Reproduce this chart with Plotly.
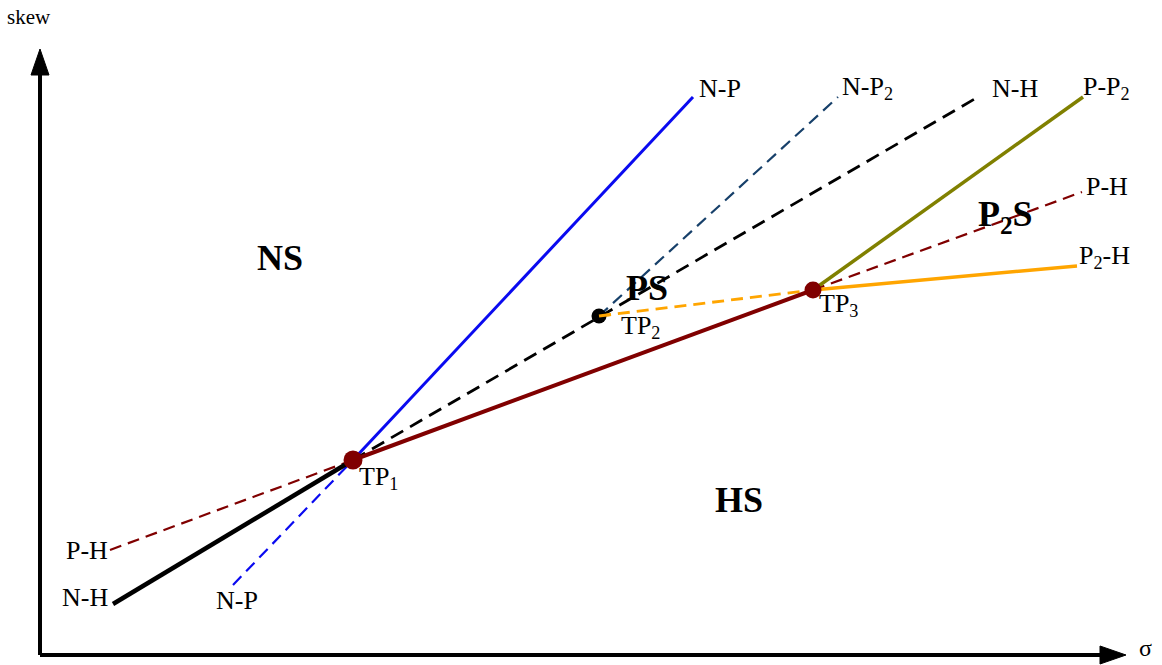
import plotly.graph_objects as go

# ---- key points (chart units; origin bottom-left) ----
origin = (40, 10)
y_axis_tip = (40, 616)
x_axis_tip = (1126, 10)

TP1 = (353, 205)
TP2 = (599, 349)
TP3 = (813, 375)

NP_start = (233, 80)
NP_end = (693, 568)
NP2_end = (838, 568)
NH_start = (113, 61)
NH_end = (978, 568)
PH_start = (110, 115)
PH_end = (1082, 473)
PP2_end = (1083, 568)
P2H_end = (1077, 399)

# line labels: (text, x, y, anchor)
line_labels = [
    ("N-P", 697, 577, "left"),
    ("N-P<sub>2</sub>", 840, 577, "left"),
    ("N-H", 990, 577, "left"),
    ("P-P<sub>2</sub>", 1081, 577, "left"),
    ("P-H", 1084, 479, "left"),
    ("P<sub>2</sub>-H", 1077, 408, "left"),
    ("P-H", 110, 115, "right"),
    ("N-H", 110, 68, "right"),
    ("N-P", 237, 65, "center"),
    ("TP<sub>1</sub>", 357, 187, "left"),
    ("TP<sub>2</sub>", 619, 338, "left"),
    ("TP<sub>3</sub>", 817, 360, "left"),
]
region_labels = [
    ("NS", 280, 407),
    ("PS", 647, 377),
    ("P<sub>2</sub>S", 1005, 449),
    ("HS", 739, 165),
]

BLUE = "#0A0AF0"
NAVY = "#17406A"
DRED = "#800000"
OLIVE = "#808000"
ORANGE = "#FFA500"
DASH = "12px,7px"
LDASH = "14px,8px"

fig = go.Figure()

def seg(p, q, color, width, dash="solid"):
    fig.add_trace(go.Scatter(x=[p[0], q[0]], y=[p[1], q[1]], mode="lines",
                             line=dict(color=color, width=width, dash=dash),
                             hoverinfo="skip", showlegend=False))

# axes
seg(origin, (y_axis_tip[0], y_axis_tip[1] - 20), "black", 4)
seg(origin, (x_axis_tip[0] - 20, x_axis_tip[1]), "black", 4)
fig.add_trace(go.Scatter(x=[y_axis_tip[0] - 9, y_axis_tip[0], y_axis_tip[0] + 9, y_axis_tip[0] - 9],
                         y=[y_axis_tip[1] - 26, y_axis_tip[1], y_axis_tip[1] - 26, y_axis_tip[1] - 26],
                         fill="toself", fillcolor="black", mode="lines", line=dict(color="black", width=1),
                         hoverinfo="skip", showlegend=False))
fig.add_trace(go.Scatter(x=[x_axis_tip[0] - 26, x_axis_tip[0], x_axis_tip[0] - 26, x_axis_tip[0] - 26],
                         y=[x_axis_tip[1] - 9, x_axis_tip[1], x_axis_tip[1] + 9, x_axis_tip[1] - 9],
                         fill="toself", fillcolor="black", mode="lines", line=dict(color="black", width=1),
                         hoverinfo="skip", showlegend=False))

# phase lines
seg(PH_start, TP1, DRED, 2.2, DASH)
seg(NP_start, TP1, BLUE, 2.2, DASH)
seg(NH_start, TP1, "black", 4.5)
seg(TP1, NH_end, "black", 2.8, LDASH)
seg(TP2, NP2_end, NAVY, 2.2, DASH)
seg(TP1, NP_end, BLUE, 3)
seg(TP3, PH_end, DRED, 2.2, DASH)
seg(TP2, TP3, ORANGE, 2.8, DASH)
seg(TP3, P2H_end, ORANGE, 3.5)
seg(TP3, PP2_end, OLIVE, 3.5)
seg(TP1, TP3, DRED, 4)

# triple points
fig.add_trace(go.Scatter(x=[TP1[0], TP3[0]], y=[TP1[1], TP3[1]], mode="markers",
                         marker=dict(color=DRED, size=[19, 17], opacity=1, line=dict(width=0)),
                         hoverinfo="skip", showlegend=False))
fig.add_trace(go.Scatter(x=[TP2[0]], y=[TP2[1]], mode="markers",
                         marker=dict(color="black", size=15, opacity=1, line=dict(width=0)),
                         hoverinfo="skip", showlegend=False))
# orange dash passes over TP2 marker as in reference
seg(TP2, (TP2[0] + 12, TP2[1] + 1.5), ORANGE, 2.8)

FONT = "Liberation Serif, Times New Roman, serif"
for t, x, y, a in line_labels:
    fig.add_annotation(x=x, y=y, text=t, showarrow=False, xanchor=a, yanchor="middle",
                       font=dict(family=FONT, size=26, color="black"))
for t, x, y in region_labels:
    fig.add_annotation(x=x, y=y, text="<b>" + t + "</b>", showarrow=False, xanchor="center",
                       yanchor="middle", font=dict(family=FONT, size=36, color="black"))
fig.add_annotation(x=29, y=648, text="skew", showarrow=False, xanchor="center", yanchor="middle",
                   font=dict(family=FONT, size=21, color="black"))
fig.add_annotation(x=1145, y=17, text="σ", showarrow=False, xanchor="center", yanchor="middle",
                   font=dict(family=FONT, size=24, color="black"))

fig.update_layout(width=1162, height=665, margin=dict(l=0, r=0, t=0, b=0),
                  plot_bgcolor="white", paper_bgcolor="white",
                  xaxis=dict(range=[0, 1162], visible=False, fixedrange=True),
                  yaxis=dict(range=[0, 665], visible=False, fixedrange=True))
# remove the page's default 8px body margin so the figure fills the window exactly
fig.write_html("out.html", config={"displayModeBar": False},
               post_script="document.body.style.margin='0px';document.body.style.overflow='hidden';")
